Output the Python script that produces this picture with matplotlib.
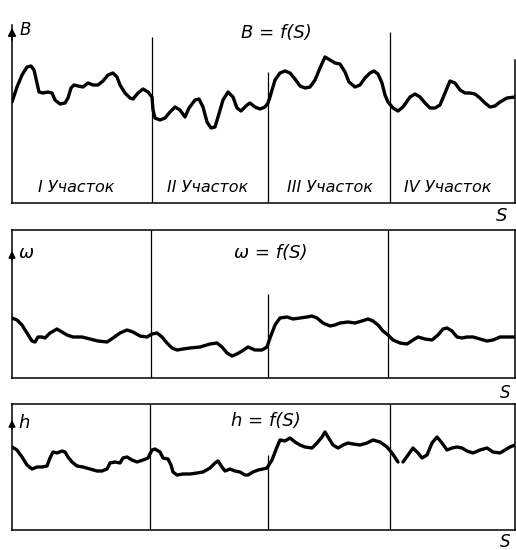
import numpy as np
import matplotlib
matplotlib.use("Agg")
import matplotlib.pyplot as plt

# ---- data (S along the road, heights above panel base) ----
S_B = [0, 5, 10, 15, 19, 22, 25, 27, 31, 36, 40, 43, 48, 53, 56, 59, 62, 66, 71, 76,
       81, 86, 91, 96, 101, 105, 108, 113, 118, 121, 126, 131, 136, 140, 141, 143, 148,
       153, 158, 163, 168, 173, 177, 183, 187, 191, 195, 199, 203, 206, 211, 216, 221,
       225, 229, 235, 238, 243, 248, 253, 256, 258, 263, 268, 273, 278, 283, 288, 293,
       298, 303, 308, 313, 318, 323, 328, 333, 337, 343, 348, 353, 358, 362, 366, 370,
       373, 376, 381, 386, 391, 398, 403, 408, 413, 418, 423, 428, 433, 438, 443, 448,
       453, 458, 463, 468, 473, 478, 483, 488, 495, 503]
B_vals = [101, 116, 128, 136, 137, 133, 120, 111, 110, 111, 110, 103, 99, 100, 105, 115,
          118, 117, 116, 120, 118, 118, 122, 128, 130, 126, 118, 110, 105, 104, 110, 114,
          111, 106, 93, 85, 83, 85, 91, 96, 93, 86, 95, 103, 104, 96, 81, 75, 76, 86, 103,
          111, 106, 95, 92, 98, 100, 96, 94, 96, 100, 106, 123, 130, 132, 130, 124, 117,
          115, 116, 123, 135, 146, 143, 140, 139, 131, 121, 116, 118, 125, 130, 132, 129,
          120, 108, 101, 95, 92, 96, 106, 109, 106, 100, 95, 95, 98, 110, 122, 120, 113,
          110, 110, 109, 105, 100, 96, 97, 101, 105, 106]

S_W = [0, 5, 10, 15, 20, 23, 26, 30, 33, 38, 45, 50, 55, 61, 70, 78, 86, 95, 101, 108,
       115, 121, 128, 135, 140, 145, 150, 155, 160, 165, 171, 178, 188, 198, 205, 210,
       215, 220, 225, 230, 236, 243, 250, 255, 258, 263, 268, 275, 281, 288, 295, 300,
       305, 311, 318, 323, 328, 336, 343, 350, 356, 361, 366, 371, 376, 381, 388, 395,
       401, 406, 413, 420, 426, 431, 435, 440, 445, 450, 455, 461, 468, 475, 481, 488,
       495, 503]
W_vals = [60, 58, 53, 45, 37, 36, 41, 41, 40, 45, 49, 46, 43, 41, 41, 39, 37, 36, 40, 45,
          48, 46, 42, 41, 44, 45, 41, 35, 30, 28, 29, 30, 31, 34, 35, 31, 25, 22, 24, 27,
          31, 28, 28, 31, 40, 53, 60, 61, 59, 60, 61, 62, 60, 55, 52, 53, 55, 56, 55, 57,
          59, 57, 53, 47, 43, 38, 35, 34, 38, 41, 39, 38, 43, 49, 50, 47, 41, 40, 41, 41,
          39, 37, 38, 41, 41, 41]

S_H = [0, 5, 10, 15, 20, 25, 30, 35, 38, 41, 45, 50, 53, 56, 60, 65, 71, 78, 85, 90,
       95, 98, 103, 108, 111, 115, 120, 125, 131, 136, 140, 143, 148, 151, 156, 159, 161,
       165, 171, 178, 185, 191, 198, 203, 206, 210, 213, 218, 223, 228, 233, 236, 241,
       246, 251, 255, 260, 265, 268, 273, 278, 283, 288, 293, 300, 305, 310, 313, 316,
       321, 326, 331, 336, 341, 348, 355, 361, 368, 375, 380, 386, np.nan, 391, 396, 401,
       406, 410, 415, 420, 425, 430, 435, 440, 445, 450, 455, 461, 468, 475, 481, 488,
       493, 498, 503]
H_vals = [83, 80, 73, 65, 61, 63, 63, 64, 72, 78, 77, 79, 78, 73, 68, 64, 63, 61, 59, 59,
          61, 67, 68, 67, 72, 73, 70, 68, 70, 72, 80, 81, 78, 72, 71, 65, 58, 55, 56, 56,
          57, 58, 62, 67, 69, 63, 59, 61, 59, 58, 55, 55, 58, 60, 61, 62, 70, 83, 90, 89,
          92, 88, 85, 83, 82, 87, 93, 98, 93, 85, 82, 85, 87, 86, 85, 87, 90, 88, 83, 77,
          68, np.nan, 68, 75, 82, 77, 72, 75, 87, 93, 87, 80, 82, 83, 82, 79, 77, 80, 82,
          78, 77, 80, 83, 85]

section_labels = ["I Участок", "II Участок", "III Участок", "IV Участок"]
label_S = [64, 196, 318, 436]
bounds_B = [140, 256, 378]
bounds_W = [139, 256, 376]
bounds_H = [138, 256, 378]

W, H = 516, 550
fig = plt.figure(figsize=(W / 100, H / 100), dpi=100)
fig.patch.set_facecolor("white")

def fx(x): return x / W
def fy(y): return 1 - y / H

FONT = dict(family=["DejaVu Sans"], style="italic", color="black")
CURVE = dict(color="black", lw=2.4, solid_joinstyle="round", solid_capstyle="round")

def make_ax(top, bottom):
    ax = fig.add_axes([fx(12), fy(bottom), fx(515) - fx(12), fy(top) - fy(bottom)])
    ax.set_xlim(0, 503)
    ax.set_ylim(0, bottom - top)
    ax.set_xticks([]); ax.set_yticks([])
    ax.patch.set_alpha(0)
    for sp in ax.spines.values():
        sp.set_linewidth(1.1)
        sp.set_color("black")
    return ax

# ---- panel 1 : B = f(S) ----
ax1 = make_ax(25, 203)
ax1.spines["top"].set_visible(False)
ax1.spines["right"].set_bounds(0, 143)
ax1.plot(S_B, B_vals, **CURVE)
for s, top in zip(bounds_B, [166, 131, 171]):
    ax1.vlines(s, 0, top, color="black", lw=0.9)
ax1.annotate("", xy=(0, 178), xytext=(0, 160), xycoords="data",
             arrowprops=dict(arrowstyle="-|>", color="black", lw=1.1, mutation_scale=12),
             annotation_clip=False)
for s, t in zip(label_S, section_labels):
    ax1.text(s, 15, t, ha="center", va="center", fontsize=11.5, **FONT)

# ---- panel 2 : w = f(S) ----
ax2 = make_ax(230, 378)
ax2.plot(S_W, W_vals, **CURVE)
for s, top in zip(bounds_W, [148, 84, 148]):
    ax2.vlines(s, 0, top, color="black", lw=0.9)
ax2.annotate("", xy=(0, 130), xytext=(0, 115),
             arrowprops=dict(arrowstyle="-|>", color="black", lw=1.1, mutation_scale=10))

# ---- panel 3 : h = f(S) ----
ax3 = make_ax(404, 530)
ax3.plot(S_H, H_vals, **CURVE)
for s, top in zip(bounds_H, [126, 75, 126]):
    ax3.vlines(s, 0, top, color="black", lw=0.9)
ax3.annotate("", xy=(0, 113), xytext=(0, 98),
             arrowprops=dict(arrowstyle="-|>", color="black", lw=1.1, mutation_scale=10))

# ---- texts ----
fig.text(fx(20), fy(30), "B", ha="left", va="center", fontsize=12, **FONT)
fig.text(fx(276), fy(33), "B = f(S)", ha="center", va="center", fontsize=13, **FONT)
fig.text(fx(502), fy(216), "S", ha="center", va="center", fontsize=13, **FONT)

fig.text(fx(19), fy(253), "ω", ha="left", va="center", fontsize=13, **FONT)
fig.text(fx(271), fy(253), "ω = f(S)", ha="center", va="center", fontsize=13, **FONT)
fig.text(fx(505), fy(393), "S", ha="center", va="center", fontsize=12, **FONT)

fig.text(fx(18), fy(423), "h", ha="left", va="center", fontsize=13, **FONT)
fig.text(fx(266), fy(421), "h = f(S)", ha="center", va="center", fontsize=13, **FONT)
fig.text(fx(505), fy(542), "S", ha="center", va="center", fontsize=12, **FONT)

fig.savefig("out.png", dpi=100, facecolor="white")
